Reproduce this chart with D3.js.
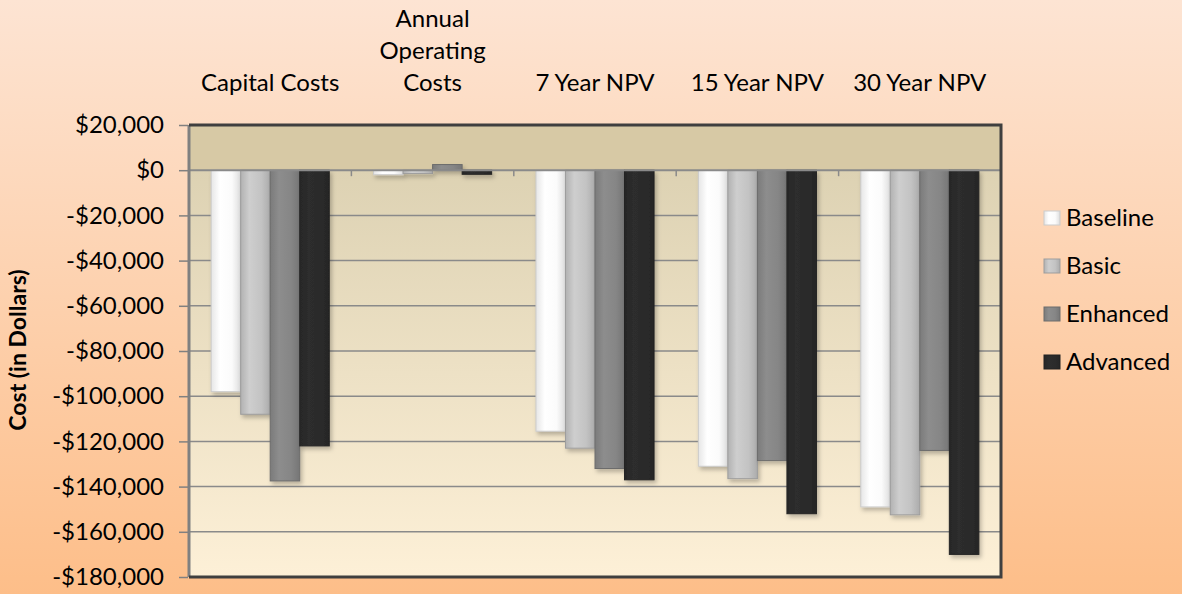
<!DOCTYPE html>
<meta charset="utf-8">
<style>
  body { margin: 0; }
  svg { display: block; font-family: Lato, "Open Sans", sans-serif; }
</style>
<svg width="1182" height="594"></svg>
<script src="https://d3js.org/d3.v7.min.js"></script>
<script>

// data
var categories = ["Capital Costs", "Annual Operating Costs", "7 Year NPV", "15 Year NPV", "30 Year NPV"];
var categoryLines = [["Capital Costs"], ["Annual", "Operating", "Costs"], ["7 Year NPV"], ["15 Year NPV"], ["30 Year NPV"]];
var series = ["Baseline", "Basic", "Enhanced", "Advanced"];
var baseline = [-98000, -2000, -115500, -131000, -149000];
var basic    = [-108000, -1500, -123000, -136500, -152500];
var enhanced = [-137500, 2500, -132000, -128500, -124000];
var advanced = [-122000, -1800, -137000, -152000, -170000];
var yTicks = [20000, 0, -20000, -40000, -60000, -80000, -100000, -120000, -140000, -160000, -180000];
var colors = ["#fbfbfb", "#c3c3c3", "#868686", "#2b2b2b"];

var values = [baseline, basic, enhanced, advanced];

var svg = d3.select("svg"),
    width = +svg.attr("width"),
    height = +svg.attr("height");

var plotLeft = 189, plotRight = 1001, plotTop = 125, plotBottom = 577;

var defs = svg.append("defs");

var bg = defs.append("linearGradient").attr("id", "bg")
    .attr("x1", 0).attr("y1", 0).attr("x2", 0).attr("y2", 1);
bg.append("stop").attr("offset", 0).attr("stop-color", "#fde4d3");
bg.append("stop").attr("offset", 1).attr("stop-color", "#fdbe89");

var plotBg = defs.append("linearGradient").attr("id", "plotbg")
    .attr("x1", 0).attr("y1", 0).attr("x2", 0).attr("y2", 1);
plotBg.append("stop").attr("offset", 0).attr("stop-color", "#ddd2b3");
plotBg.append("stop").attr("offset", 1).attr("stop-color", "#fdf0d7");

colors.forEach(function(c, i) {
  var g = defs.append("linearGradient").attr("id", "bar" + i);
  var base = d3.color(c);
  g.append("stop").attr("offset", 0).attr("stop-color", base.darker(0.25));
  g.append("stop").attr("offset", 0.3).attr("stop-color", base.brighter(0.15));
  g.append("stop").attr("offset", 0.7).attr("stop-color", base);
  g.append("stop").attr("offset", 1).attr("stop-color", base.darker(0.35));
});

var shadow = defs.append("filter").attr("id", "shadow")
    .attr("x", "-20%").attr("y", "-5%").attr("width", "160%").attr("height", "120%");
shadow.append("feDropShadow").attr("dx", 2).attr("dy", 3).attr("stdDeviation", 2)
    .attr("flood-color", "#000").attr("flood-opacity", 0.25);

svg.append("rect").attr("width", width).attr("height", height).attr("fill", "url(#bg)");

var x0 = d3.scaleBand().domain(categories).range([plotLeft, plotRight]);
var x1 = d3.scaleBand().domain(series).range([0, x0.bandwidth()]).paddingOuter(0.75);
var y = d3.scaleLinear().domain([-180000, 20000]).range([plotBottom, plotTop]);

// plot area
svg.append("rect")
    .attr("x", plotLeft).attr("y", y(0))
    .attr("width", plotRight - plotLeft).attr("height", plotBottom - y(0))
    .attr("fill", "url(#plotbg)");
svg.append("rect")
    .attr("x", plotLeft).attr("y", plotTop)
    .attr("width", plotRight - plotLeft).attr("height", y(0) - plotTop)
    .attr("fill", "#d7c9a5");

// gridlines
svg.append("g")
  .selectAll("line")
    .data(yTicks.filter(function(d) { return d < 0 && d > -180000; }))
  .enter().append("line")
    .attr("x1", plotLeft).attr("x2", plotRight)
    .attr("y1", function(d) { return y(d); })
    .attr("y2", function(d) { return y(d); })
    .attr("stroke", "#8a8a8a").attr("stroke-width", 1.5);

// bars
var fmt = d3.format(",");
var groups = svg.append("g")
  .selectAll("g")
    .data(series)
  .enter().append("g")
    .attr("filter", "url(#shadow)");

groups.selectAll("rect")
    .data(function(s, i) {
      return categories.map(function(c, j) { return {cat: c, s: s, i: i, v: values[i][j]}; });
    })
  .enter().append("rect")
    .attr("x", function(d) { return x0(d.cat) + x1(d.s); })
    .attr("width", x1.bandwidth())
    .attr("y", function(d) { return y(Math.max(0, d.v)); })
    .attr("height", function(d) { return Math.abs(y(d.v) - y(0)); })
    .attr("fill", function(d) { return "url(#bar" + d.i + ")"; })
    .attr("stroke", function(d) { return d3.color(colors[d.i]).darker(0.6); })
    .attr("stroke-width", 1);

// zero axis with category ticks
svg.append("line")
    .attr("x1", plotLeft).attr("x2", plotRight)
    .attr("y1", y(0)).attr("y2", y(0))
    .attr("stroke", "#8a8a8a").attr("stroke-width", 2);
svg.append("g")
  .selectAll("line")
    .data(categories.slice(1))
  .enter().append("line")
    .attr("x1", function(d) { return x0(d); })
    .attr("x2", function(d) { return x0(d); })
    .attr("y1", y(0)).attr("y2", y(0) + 6)
    .attr("stroke", "#8a8a8a").attr("stroke-width", 1.5);

// frame
svg.append("line").attr("x1", plotLeft).attr("x2", plotLeft).attr("y1", plotTop).attr("y2", plotBottom)
    .attr("stroke", "#808080").attr("stroke-width", 3);
svg.append("path")
    .attr("d", "M" + plotLeft + "," + plotTop + "H" + plotRight + "V" + plotBottom + "H" + plotLeft)
    .attr("fill", "none").attr("stroke", "#3f3f3f").attr("stroke-width", 3);

// y axis
var yAxis = svg.append("g")
    .attr("transform", "translate(" + (plotLeft - 1) + ",0)")
    .call(d3.axisLeft(y).tickValues(yTicks).tickSize(9).tickPadding(15)
      .tickFormat(function(d) { return (d < 0 ? "-$" : "$") + fmt(Math.abs(d)); }));
yAxis.select(".domain").remove();
yAxis.selectAll(".tick line").attr("stroke", "#808080").attr("stroke-width", 1.5);
yAxis.selectAll(".tick text").attr("font-size", 24).attr("fill", "#000")
    .attr("font-family", "Lato, sans-serif");

// category labels on top
svg.append("g")
  .selectAll("text")
    .data(categories)
  .enter().append("text")
    .attr("text-anchor", "middle")
    .attr("font-size", 24)
    .attr("x", function(d) { return x0(d) + x0.bandwidth() / 2; })
    .each(function(d, i) {
      var lines = categoryLines[i];
      var t = d3.select(this);
      lines.forEach(function(l, k) {
        t.append("tspan")
            .attr("x", x0(d) + x0.bandwidth() / 2)
            .attr("y", 91 - (lines.length - 1 - k) * 32)
            .text(l);
      });
    });

// y title
svg.append("text")
    .attr("transform", "translate(26,350) rotate(-90)")
    .attr("text-anchor", "middle")
    .attr("font-size", 23)
    .attr("font-weight", "bold")
    .text("Cost (in Dollars)");

// legend
var legend = svg.append("g")
  .selectAll("g")
    .data(series)
  .enter().append("g")
    .attr("transform", function(d, i) { return "translate(1044," + (218 + i * 48) + ")"; });
legend.append("rect")
    .attr("x", 0).attr("y", -7).attr("width", 16).attr("height", 14)
    .attr("fill", function(d, i) { return "url(#bar" + i + ")"; })
    .attr("stroke", function(d, i) { return d3.color(colors[i]).darker(0.6); });
legend.append("text")
    .attr("x", 22).attr("dy", "0.35em")
    .attr("font-size", 24)
    .text(function(d) { return d; });

</script>
